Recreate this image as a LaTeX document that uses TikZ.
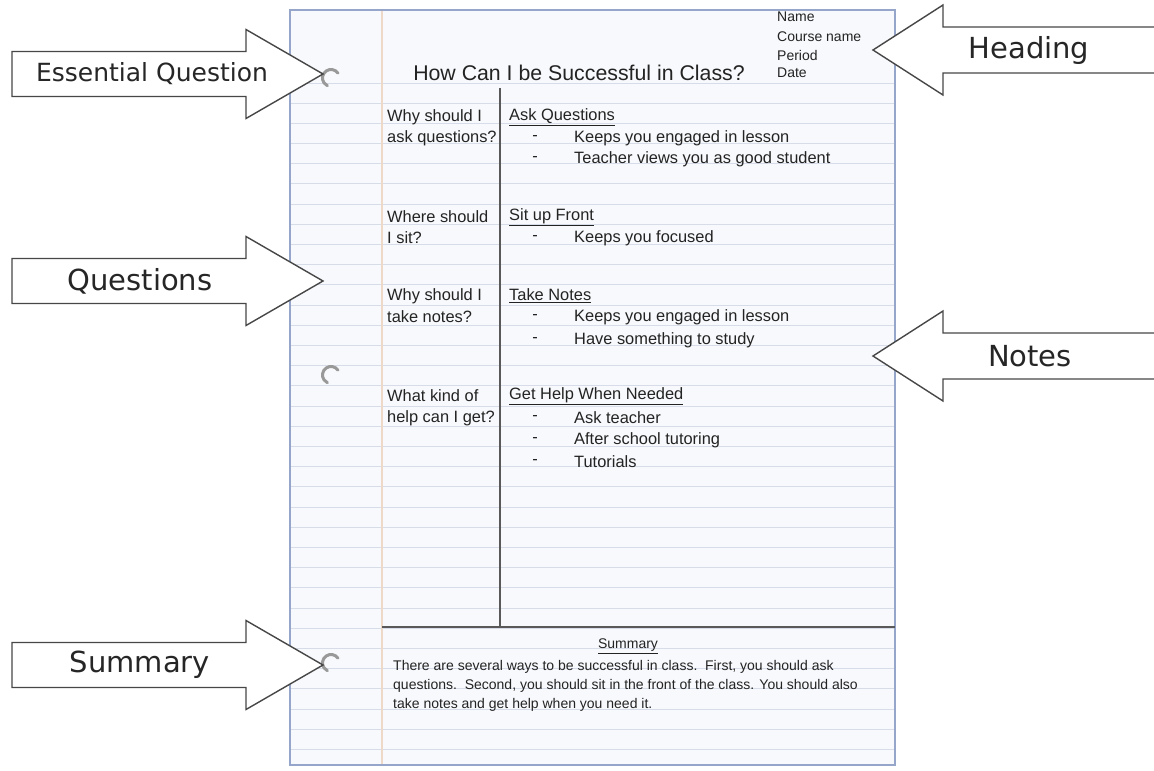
\documentclass[tikz,border=0pt]{standalone}
\usepackage{fontspec}
\setmainfont{Liberation Sans}
\newfontfamily\lblfont{DejaVu Sans}
\definecolor{paperfill}{RGB}{248,249,252}
\definecolor{paperline}{RGB}{214,220,232}
\definecolor{paperedge}{RGB}{150,166,202}
\definecolor{marginline}{RGB}{238,216,200}
\definecolor{ink}{RGB}{35,35,35}
\tikzset{>=latex}

\begin{document}
\begin{tikzpicture}[x=1pt,y=-1pt,
    rule/.style={draw=paperline,line width=1.4pt},
    divider/.style={draw=black!65,line width=2pt},
    hole/.style={draw=black!40,line width=3pt,line cap=round},
    bigarrow/.style={draw=black!72,fill=white,line width=1.4pt,line join=miter},
    lbl/.style={font=\lblfont\fontsize{29}{29}\selectfont,text=black!85,inner sep=0},
    txt/.style={font=\fontsize{16.4}{19}\selectfont,text=ink,inner sep=0,anchor=west},
    small/.style={font=\fontsize{14}{16}\selectfont,text=ink,inner sep=0,anchor=west},
    item/.style={txt,label={[font=\fontsize{16.4}{19}\selectfont,text=ink,inner sep=0,label distance=36pt]left:-}}]
    \useasboundingbox (0,0) rectangle (1154,771);
    % the notebook page
    \fill[paperfill] (290,10) rectangle (895,765);
    \foreach \k in {0,...,33}{
        \pgfmathsetmacro\yy{int(83+20.2*\k)+0.5}
        \draw[rule] (290,\yy) -- (895,\yy);
    }
    \draw[marginline,line width=1.5pt] (382,10) -- (382,765);
    \draw[paperedge,line width=1.5pt] (290,10) rectangle (895,765);
    \foreach \y in {78,375,663}
        \draw[hole] (331,\y) ++(35:8.5pt) arc[start angle=35,end angle=245,radius=8.5pt];
    \draw[divider] (500,88) -- (500,627);
    \draw[divider] (382,627) -- (895,627);
    % heading
    \node[small] (name) at (777,17) {Name};
    \node[small] (course) at (777,37) {Course name};
    \node[small] (period) at (777,55) {Period};
    \node[small] (date) at (777,73) {Date};
    \node[font=\fontsize{21.3}{24}\selectfont,text=ink,inner sep=0] (title) at (579,73) {How Can I be Successful in Class?};
    % questions column
    \node[txt] (qask1) at (387,117) {Why should I};
    \node[txt] (qask2) at (387,138) {ask questions?};
    \node[txt] (qsit1) at (387,217) {Where should};
    \node[txt] (qsit2) at (387,238) {I sit?};
    \node[txt] (qnote1) at (387,296) {Why should I};
    \node[txt] (qnote2) at (387,317) {take notes?};
    \node[txt] (qhelp1) at (387,396) {What kind of};
    \node[txt] (qhelp2) at (387,418) {help can I get?};
    % notes column
    \node[txt] (hask) at (509,117) {\underline{Ask Questions}};
    \node[txt] (hsit) at (509,217) {\underline{Sit up Front}};
    \node[txt] (hnote) at (509,296) {\underline{Take Notes}};
    \node[txt] (hhelp) at (509,396) {\underline{Get Help When Needed}};
    \foreach \y/\t in {138/Keeps you engaged in lesson,159/Teacher views you as good student,
                       238/Keeps you focused,317/Keeps you engaged in lesson,340/Have something to study,
                       418/Ask teacher,440/After school tutoring,462/Tutorials}
        \node[item] (item\y) at (574,\y) {\t};
    % summary
    \node[small,anchor=center] (sumhead) at (628,646) {\underline{Summary}};
    \node[small] (sum1) at (393,667) {There are several ways to be successful in class.\ \ First, you should ask};
    \node[small] (sum2) at (393,686) {questions.\ \ Second, you should sit in the front of the class. You should also};
    \node[small] (sum3) at (393,705) {take notes and get help when you need it.};
    % arrows pointing at the page
    \draw[bigarrow] (12,51.5) -- (246,51.5) -- (246,29.5) -- (323,74) -- (246,118.5) -- (246,96.5) -- (12,96.5) -- cycle;
    \node[lbl,font=\lblfont\fontsize{25}{25}\selectfont] (essential) at (152,74) {Essential Question};
    \draw[bigarrow] (12,258.5) -- (246,258.5) -- (246,236.5) -- (323,281) -- (246,325.5) -- (246,303.5) -- (12,303.5) -- cycle;
    \node[lbl] (questions) at (140,281) {Questions};
    \draw[bigarrow] (12,642.5) -- (246,642.5) -- (246,620.5) -- (323,665) -- (246,709.5) -- (246,687.5) -- (12,687.5) -- cycle;
    \node[lbl] (summary) at (140,665) {Summary};
    \draw[bigarrow] (1160,27) -- (943,27) -- (943,5) -- (873,50) -- (943,95) -- (943,73) -- (1160,73);
    \node[lbl] (heading) at (1029,50) {Heading};
    \draw[bigarrow] (1160,333) -- (943,333) -- (943,311) -- (873,356) -- (943,401) -- (943,379) -- (1160,379);
    \node[lbl] (notes) at (1030,356) {Notes};
\end{tikzpicture}
\end{document}
